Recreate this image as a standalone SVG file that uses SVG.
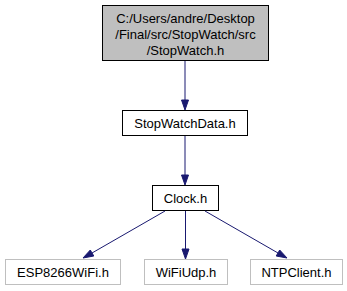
<svg xmlns="http://www.w3.org/2000/svg" width="347" height="291" viewBox="0 0 347 291">
<style>
text{font-family:"Liberation Sans",Arial,sans-serif;font-size:13px;text-anchor:middle;fill:#000}
.main rect{fill:#bfbfbf;stroke:#000}
.n rect{fill:#fff;stroke:#000}
.ext rect{fill:#fff;stroke:#bfbfbf}
.e path{fill:none;stroke:#191970}
.e polygon{fill:#191970;stroke:#191970}
</style>
<rect width="347" height="291" fill="#fff"/>
<g id="node1" class="main"><rect x="102.5" y="5.5" width="166" height="55"/>
<text x="185.5" y="23">C:/Users/andre/Desktop</text>
<text x="185.5" y="39">/Final/src/StopWatch/src</text>
<text x="185.5" y="55">/StopWatch.h</text></g>
<g id="node2" class="n"><rect x="122.5" y="110.5" width="125" height="25"/><text x="185" y="128">StopWatchData.h</text></g>
<g id="node3" class="n"><rect x="152.5" y="185.5" width="66" height="25"/><text x="185.5" y="203">Clock.h</text></g>
<g id="node4" class="ext"><rect x="5.5" y="259.5" width="115" height="25"/><text x="63" y="277">ESP8266WiFi.h</text></g>
<g id="node5" class="ext"><rect x="144.5" y="259.5" width="83" height="25"/><text x="186" y="277">WiFiUdp.h</text></g>
<g id="node6" class="ext"><rect x="250.5" y="259.5" width="92" height="25"/><text x="296.5" y="277">NTPClient.h</text></g>
<g id="edges" class="e">
<path d="M185,61 L185,100"/><polygon points="181.5,100 185,110 188.5,100"/>
<path d="M185,136 L185,175"/><polygon points="181.5,175 185,185 188.5,175"/>
<path d="M165,211 L92,253"/><polygon points="90.3,250 83,258 93.8,256"/>
<path d="M185.5,211 L185.5,249"/><polygon points="182,249 185.5,259 189,249"/>
<path d="M205,211 L278,253"/><polygon points="276.2,256 287,258 279.7,250"/>
</g>
</svg>
